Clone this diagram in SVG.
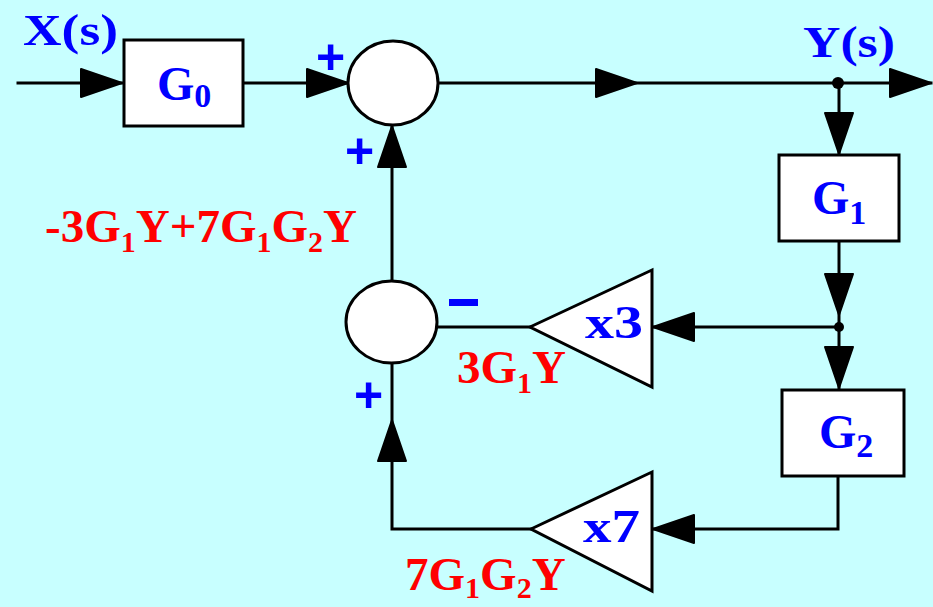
<svg xmlns="http://www.w3.org/2000/svg" width="933" height="607" viewBox="0 0 933 607">
<style>
.ln{fill:none;stroke:#000;stroke-width:3;stroke-linecap:square}
.box{fill:#fff;stroke:#000;stroke-width:3}
.sum{fill:#fff;stroke:#000;stroke-width:3}
.ah{fill:#000;stroke:#000;stroke-width:2;stroke-linejoin:round}
.bl{font-family:"Liberation Serif","Times New Roman",serif;font-weight:bold;fill:#0000FF}
.rd{font-family:"Liberation Serif","Times New Roman",serif;font-weight:bold;fill:#FF0000;font-size:47px}
.sg{font-family:"Liberation Sans",Arial,sans-serif;font-weight:bold;fill:#0000FF;font-size:50px}
</style>
<defs>
<path id="arr" d="M0,0 L-41,-14 L-41,14 Z"/>
</defs>
<rect x="0" y="0" width="933" height="607" fill="#C8FFFF"/>

<g id="connectors">
<polyline class="ln" points="18,83 124,83"/>
<polyline class="ln" points="244,83 349,83"/>
<polyline class="ln" points="439,83 931,83"/>
<polyline class="ln" points="839,83 839,155"/>
<polyline class="ln" points="839,241 839,388"/>
<polyline class="ln" points="839,327 652,327"/>
<polyline class="ln" points="838,476 838,529 652,529"/>
<polyline class="ln" points="531,529 392,529 392,364"/>
<polyline class="ln" points="437,327 530,327"/>
<polyline class="ln" points="392,281 392,126"/>
<circle cx="838" cy="83" r="6" fill="#000"/>
<circle cx="839" cy="327" r="5" fill="#000"/>
<use href="#arr" class="ah" transform="translate(122,83)"/>
<use href="#arr" class="ah" transform="translate(348,83)"/>
<use href="#arr" class="ah" transform="translate(637,83)"/>
<use href="#arr" class="ah" transform="translate(931,83)"/>
<use href="#arr" class="ah" transform="translate(839,154) rotate(90)"/>
<use href="#arr" class="ah" transform="translate(839,315) rotate(90)"/>
<use href="#arr" class="ah" transform="translate(839,388) rotate(90)"/>
<use href="#arr" class="ah" transform="translate(653,327) rotate(180)"/>
<use href="#arr" class="ah" transform="translate(653,529) rotate(180)"/>
<use href="#arr" class="ah" transform="translate(392,420) rotate(-90)"/>
<use href="#arr" class="ah" transform="translate(392,126) rotate(-90)"/>
</g>

<g id="G0">
<rect class="box" x="124" y="40" width="119" height="86"/>
<text class="bl" x="157" y="100" font-size="48">G<tspan font-size="34" dy="7">0</tspan></text>
</g>

<g id="sum1">
<ellipse class="sum" cx="393" cy="83" rx="45" ry="42"/>
</g>

<g id="G1">
<rect class="box" x="779" y="155" width="120" height="86"/>
<text class="bl" x="812" y="214" font-size="48">G<tspan font-size="34" dy="10">1</tspan></text>
</g>

<g id="G2">
<rect class="box" x="782" y="390" width="122" height="86"/>
<text class="bl" x="819" y="448" font-size="48">G<tspan font-size="34" dy="9">2</tspan></text>
</g>

<g id="sum2">
<ellipse class="sum" cx="391.5" cy="322" rx="45.5" ry="41"/>
</g>

<g id="gain3">
<polygon class="box" points="530,327 652,270 652,387"/>
<text class="bl" x="585" y="338" font-size="46" textLength="58" lengthAdjust="spacingAndGlyphs">x3</text>
</g>

<g id="gain7">
<polygon class="box" points="531,529 652,472 652,591"/>
<text class="bl" x="583" y="542" font-size="46" textLength="57" lengthAdjust="spacingAndGlyphs">x7</text>
</g>

<g id="labels">
<text class="bl" x="23" y="45" font-size="44" textLength="95" lengthAdjust="spacingAndGlyphs">X(s)</text>
<text class="bl" x="803" y="57" font-size="44" textLength="92" lengthAdjust="spacingAndGlyphs">Y(s)</text>
<text class="sg" x="316" y="74">+</text>
<text class="sg" x="345" y="168">+</text>
<text class="sg" x="354" y="412">+</text>
<rect x="449" y="299" width="29" height="7" fill="#0000FF"/>
<text class="rd" x="45" y="242">-3G<tspan font-size="30" dy="10">1</tspan><tspan dy="-10">Y+7G</tspan><tspan font-size="30" dy="10">1</tspan><tspan dy="-10">G</tspan><tspan font-size="30" dy="10">2</tspan><tspan dy="-10">Y</tspan></text>
<text class="rd" x="457" y="383">3G<tspan font-size="30" dy="10">1</tspan><tspan dy="-10">Y</tspan></text>
<text class="rd" x="405" y="590">7G<tspan font-size="30" dy="8">1</tspan><tspan dy="-8">G</tspan><tspan font-size="30" dy="8">2</tspan><tspan dy="-8">Y</tspan></text>
</g>
</svg>
